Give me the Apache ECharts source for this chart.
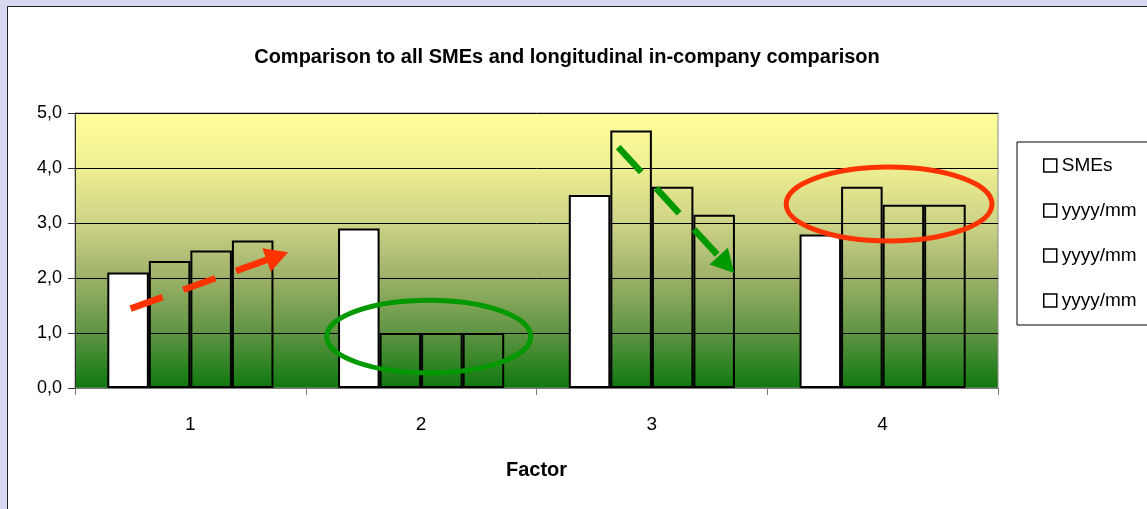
<!DOCTYPE html>
<html>
<head>
<meta charset="utf-8">
<script src="https://cdn.jsdelivr.net/npm/echarts@6/dist/echarts.min.js"></script>
<style>
html,body{margin:0;padding:0;width:1147px;height:509px;overflow:hidden;background:#D8D8F2;}
#panel{position:absolute;left:7px;top:6px;width:1200px;height:600px;background:#fff;border:1px solid #222;}
#chart{position:absolute;left:0;top:0;width:1147px;height:509px;}
</style>
</head>
<body>
<div id="panel"></div>
<div id="chart"></div>
<script>
// ---- data ----
var categories = ['1', '2', '3', '4'];
var seriesLabels = ['SMEs', 'yyyy/mm', 'yyyy/mm', 'yyyy/mm'];
var smes    = [2.10, 2.90, 3.51, 2.79];
var period1 = [2.31, 1.00, 4.68, 3.66];
var period2 = [2.50, 1.00, 3.66, 3.33];
var period3 = [2.68, 1.00, 3.15, 3.33];
var yTicks = [0, 1, 2, 3, 4, 5];
var chartTitle = 'Comparison to all SMEs and longitudinal in-company comparison';
var xAxisTitle = 'Factor';
// annotations in data space: [categoryIndex, value]
var redArrow = {from: [-0.259, 1.444], to: [0.424, 2.47]};
var greenArrow = {from: [1.854, 4.38], to: [2.357, 2.09]};
var greenEllipse = {center: [1.033, 0.935], rx: 0.442, ry: 0.66};
var redEllipse = {center: [3.028, 3.345], rx: 0.446, ry: 0.673};

var FONT = "'Liberation Sans', Arial, sans-serif";
var chart = echarts.init(document.getElementById('chart'), null, {renderer: 'canvas'});

// internal unique keys so that each series gets its own legend entry
var seriesKeys = seriesLabels.map(function (l, i) { return l + '#' + i; });
var allSeries = [smes, period1, period2, period3];
var series = allSeries.map(function (vals, i) {
  return {
    name: seriesKeys[i],
    type: 'bar',
    data: vals,
    barGap: '0%',
    barCategoryGap: '28%',
    itemStyle: {
      color: i === 0 ? '#ffffff' : 'rgba(0,0,0,0)',
      borderColor: '#000',
      borderWidth: 2
    },
    emphasis: {disabled: true}
  };
});

chart.setOption({
  backgroundColor: 'transparent',
  animation: false,
  title: {
    text: chartTitle,
    left: 562,
    top: 42,
    textAlign: 'center',
    textStyle: {fontFamily: FONT, fontSize: 20, fontWeight: 'bold', color: '#000'}
  },
  legend: {
    orient: 'vertical',
    left: 1017,
    top: 142,
    padding: [13, 60, 14, 26],
    itemGap: 24,
    itemWidth: 13,
    itemHeight: 13,
    borderColor: '#000',
    borderWidth: 1,
    backgroundColor: '#fff',
    icon: 'rect',
    selectedMode: false,
    itemStyle: {color: '#fff', borderColor: '#000', borderWidth: 1.5},
    textStyle: {fontFamily: FONT, fontSize: 19, color: '#000', lineHeight: 21},
    formatter: function (name) { return name.split('#')[0]; },
    data: seriesKeys.map(function (n) { return {name: n}; })
  },
  grid: {
    left: 75, right: 149, top: 113, bottom: 121,
    show: true,
    borderColor: '#8a8a8a',
    borderWidth: 1,
    backgroundColor: {
      type: 'linear', x: 0, y: 0, x2: 0, y2: 1,
      colorStops: [
        {offset: 0, color: '#FFFF99'},
        {offset: 0.2, color: '#EEEF92'},
        {offset: 0.4, color: '#CDD386'},
        {offset: 0.5, color: '#B6C279'},
        {offset: 0.6, color: '#9CB167'},
        {offset: 0.8, color: '#5E9443'},
        {offset: 1, color: '#0E780E'}
      ]
    }
  },
  tooltip: {show: false},
  xAxis: {
    type: 'category',
    data: categories,
    name: xAxisTitle,
    nameLocation: 'middle',
    nameGap: 72,
    nameTextStyle: {fontFamily: FONT, fontSize: 20, fontWeight: 'bold', color: '#000'},
    axisLine: {lineStyle: {color: '#7a7a7a', width: 1}},
    axisTick: {show: true, length: 7, lineStyle: {color: '#7a7a7a'}},
    axisLabel: {margin: 27, fontFamily: FONT, fontSize: 19, color: '#000'},
    splitLine: {show: false}
  },
  yAxis: {
    type: 'value',
    min: yTicks[0],
    max: yTicks[yTicks.length - 1],
    interval: 1,
    axisLine: {show: true, lineStyle: {color: '#333', width: 1}},
    axisTick: {show: true, length: 7, lineStyle: {color: '#333'}},
    axisLabel: {
      margin: 13, fontFamily: FONT, fontSize: 18, color: '#000',
      formatter: function (v) { return v.toFixed(1).replace('.', ','); }
    },
    splitLine: {show: true, lineStyle: {color: '#000', width: 1}}
  },
  series: series
});

// ---- annotations placed through the axes ----
function px(pt) {
  var x0 = chart.convertToPixel({xAxisIndex: 0}, categories[0]);
  var x1 = chart.convertToPixel({xAxisIndex: 0}, categories[1]);
  var y = chart.convertToPixel({yAxisIndex: 0}, pt[1]);
  return [x0 + pt[0] * (x1 - x0), y];
}
function catWidth() {
  return chart.convertToPixel({xAxisIndex: 0}, categories[1]) - chart.convertToPixel({xAxisIndex: 0}, categories[0]);
}
function unitHeight() {
  return chart.convertToPixel({yAxisIndex: 0}, 0) - chart.convertToPixel({yAxisIndex: 0}, 1);
}
function arrow(a, color) {
  var p0 = px(a.from), p1 = px(a.to);
  var dx = p1[0] - p0[0], dy = p1[1] - p0[1];
  var len = Math.sqrt(dx * dx + dy * dy);
  var ux = dx / len, uy = dy / len;
  var headLen = 23, headHalf = 12.5;
  var bx = p1[0] - ux * headLen, by = p1[1] - uy * headLen;
  return [
    {type: 'line', z: 100, shape: {x1: p0[0], y1: p0[1], x2: bx + ux * 1, y2: by + uy * 1},
     style: {stroke: color, lineWidth: 6.5, lineDash: [34, 22], lineCap: 'butt'}},
    {type: 'polygon', z: 100, shape: {points: [[p1[0], p1[1]], [bx - uy * headHalf, by + ux * headHalf], [bx + uy * headHalf, by - ux * headHalf]]},
     style: {fill: color, stroke: null}}
  ];
}
function ellipse(e, color) {
  var c = px(e.center);
  return {type: 'ellipse', z: 100, shape: {cx: c[0], cy: c[1], rx: e.rx * catWidth(), ry: e.ry * unitHeight()},
    style: {fill: null, stroke: color, lineWidth: 5}};
}
chart.setOption({
  graphic: [].concat(
    arrow(redArrow, '#FF3300'),
    arrow(greenArrow, '#009900'),
    [ellipse(greenEllipse, '#009900'), ellipse(redEllipse, '#FF3300')]
  )
});
</script>
</body>
</html>
